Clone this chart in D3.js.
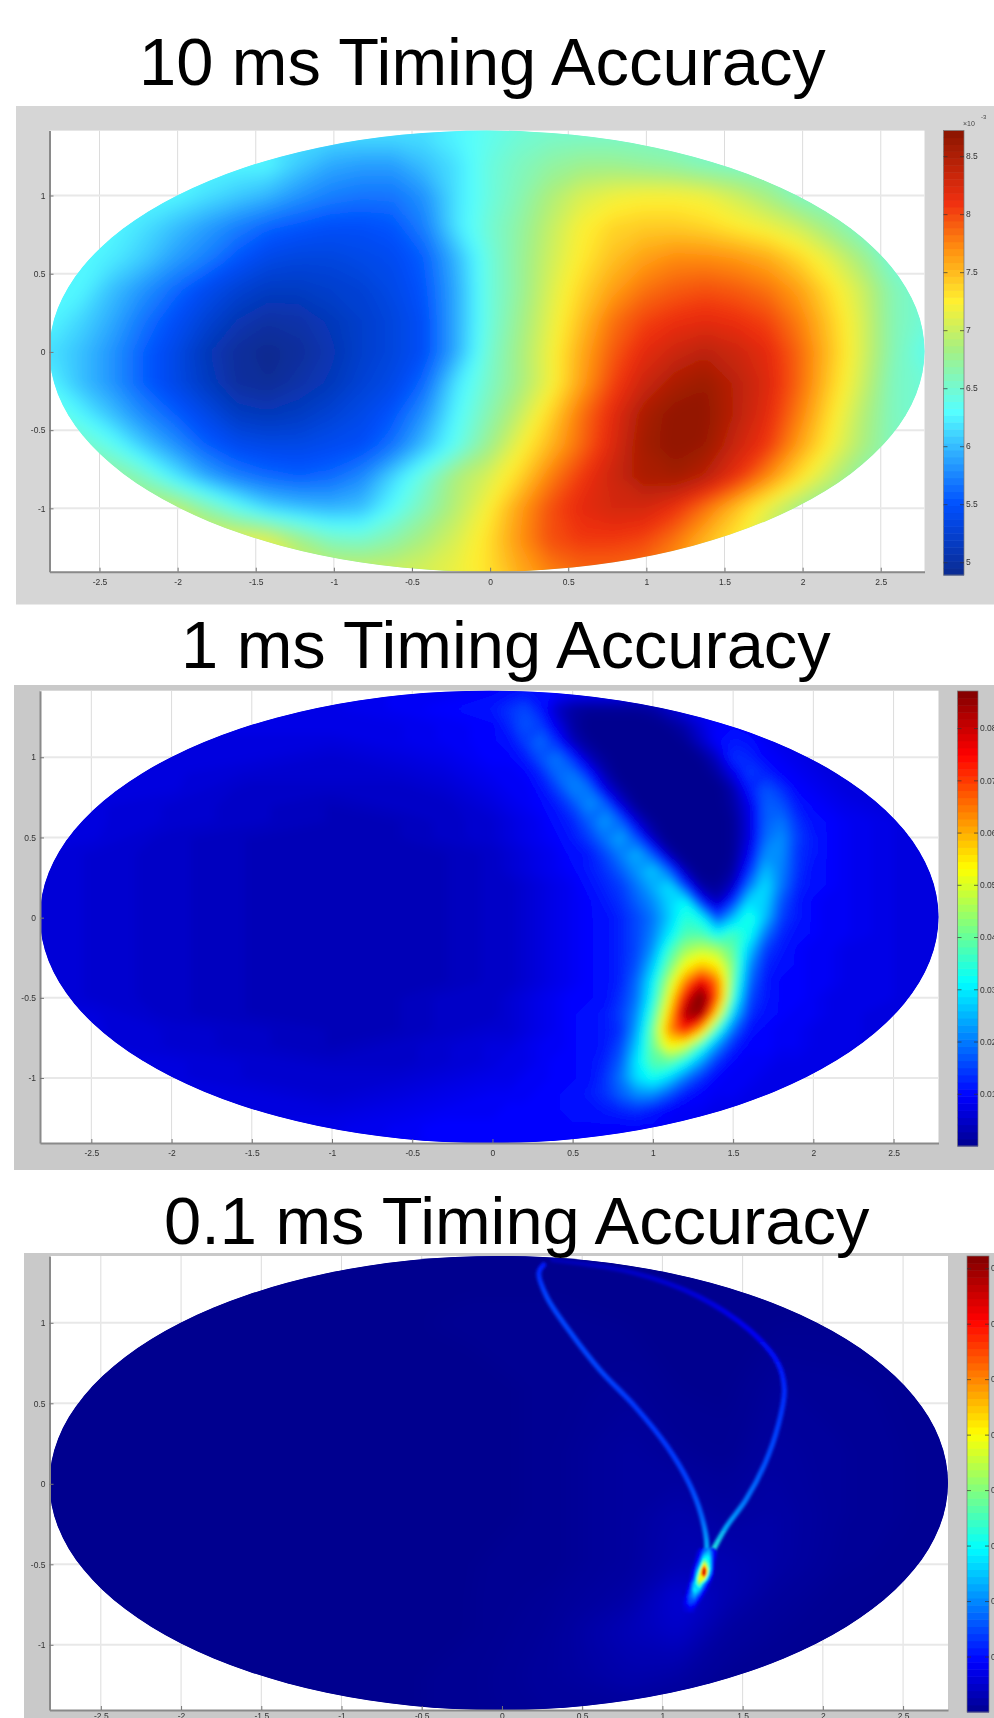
<!DOCTYPE html>
<html>
<head>
<meta charset="utf-8">
<title>Timing Accuracy</title>
<script src="https://cdn.jsdelivr.net/npm/d3@7"></script>
<style>
  html, body { margin: 0; padding: 0; background: #fff; overflow: hidden; }
  text { font-family: "Liberation Sans", Arial, sans-serif; }
</style>
</head>
<body>
<svg id="chart" width="994" height="1718"></svg>
<script>
// Axis ticks, same on all three maps
const xTicks = [-2.5, -2, -1.5, -1, -0.5, 0, 0.5, 1, 1.5, 2, 2.5];
const yTicks = [-1, -0.5, 0, 0.5, 1];
const xLimits = [-2.82, 2.78];
const yLimits = [-1.405, 1.415];

// 10 ms map, values in units of 1e-3
const coarseTicks = [5, 5.5, 6, 6.5, 7, 7.5, 8, 8.5];
const coarseDomain = [4.89, 8.72];
const coarseStops = [4.89, 5.5, 5.95, 6.3, 6.85, 7.25, 7.7, 8.1, 8.72];
const coarseColors = ["#0a2a90", "#0050ff", "#30b0ff", "#55ffff", "#a8f080", "#fff030", "#ff9010", "#f03010", "#8a1500"];
const coarseCols = d3.range(-28, 29, 2).map(d => d / 10 - 0.02);
const coarseRows = [1.4, 1.2, 1, 0.8, 0.6, 0.4, 0.2, 0, -0.2, -0.4, -0.6, -0.8, -1, -1.2, -1.4];
const coarseValues = [
  [6.2,6.2,6.2,6.2,6.2,6.2,6.2,6.2,6.2,6.2,6.2,6.2,6.2,6.3,6.4,6.5,6.55,6.55,6.55,6.55,6.55,6.55,6.55,6.55,6.55,6.55,6.55,6.55,6.55],
  [6.3,6.3,6.3,6.3,6.3,6.3,6.3,6.3,6.1,5.95,5.9,5.9,6.05,6.2,6.45,6.6,6.72,6.8,6.8,6.75,6.7,6.6,6.55,6.55,6.55,6.55,6.55,6.55,6.55],
  [6.3,6.3,6.3,6.3,6.3,6.2,6.1,6.0,5.85,5.75,5.7,5.7,5.85,6.2,6.45,6.65,6.9,7.1,7.2,7.25,7.25,7.2,7.05,6.85,6.6,6.55,6.55,6.55,6.55],
  [6.3,6.3,6.3,6.2,6.05,5.9,5.75,5.62,5.55,5.5,5.5,5.55,5.75,6.2,6.5,6.72,7.0,7.25,7.4,7.45,7.45,7.4,7.3,7.2,7.05,6.8,6.55,6.55,6.55],
  [6.3,6.3,6.25,6.1,5.9,5.75,5.55,5.4,5.35,5.35,5.4,5.45,5.6,6.0,6.45,6.75,7.05,7.3,7.5,7.65,7.75,7.75,7.7,7.6,7.4,7.15,6.85,6.5,6.5],
  [6.3,6.3,6.05,5.85,5.65,5.45,5.3,5.2,5.2,5.25,5.3,5.4,5.55,5.95,6.45,6.75,7.1,7.4,7.65,7.85,7.95,8.0,7.95,7.85,7.65,7.35,7.05,6.65,6.5],
  [6.3,6.15,5.95,5.7,5.5,5.3,5.12,5.02,5.05,5.15,5.25,5.35,5.5,5.95,6.45,6.8,7.15,7.5,7.85,8.05,8.15,8.2,8.15,8.05,7.8,7.45,7.1,6.65,6.5],
  [6.2,6.05,5.85,5.6,5.4,5.15,4.98,4.92,4.98,5.1,5.25,5.35,5.5,5.95,6.5,6.85,7.2,7.6,7.95,8.2,8.35,8.45,8.35,8.2,7.9,7.5,7.1,6.65,6.4],
  [6.3,6.05,5.85,5.6,5.4,5.2,5.0,4.95,5.05,5.15,5.3,5.4,5.65,6.2,6.55,6.85,7.2,7.65,8.05,8.35,8.55,8.65,8.45,8.25,7.9,7.45,7.05,6.6,6.5],
  [6.5,6.3,6.05,5.8,5.6,5.4,5.2,5.15,5.2,5.3,5.4,5.55,5.85,6.3,6.65,7.0,7.4,7.85,8.2,8.55,8.72,8.7,8.45,8.2,7.8,7.35,6.95,6.6,6.5],
  [6.6,6.6,6.4,6.1,5.85,5.6,5.45,5.4,5.4,5.45,5.5,5.7,6.05,6.4,6.8,7.2,7.55,7.9,8.25,8.6,8.72,8.65,8.35,8.1,7.65,7.25,6.9,6.6,6.6],
  [6.8,6.8,6.8,6.6,6.25,5.95,5.75,5.65,5.6,5.65,5.8,6.15,6.5,6.9,7.1,7.4,7.8,8.1,8.35,8.55,8.6,8.45,8.15,7.75,7.35,7.0,6.7,6.7,6.7],
  [7.0,7.0,7.0,7.0,7.0,6.7,6.4,6.15,6.05,6.0,6.05,6.35,6.65,6.95,7.25,7.65,8.0,8.2,8.3,8.3,8.15,7.85,7.5,7.15,6.85,6.7,6.7,6.7,6.7],
  [7.2,7.2,7.2,7.2,7.2,7.2,7.2,7.15,6.85,6.6,6.55,6.7,6.9,7.1,7.35,7.7,8.0,8.1,8.1,8.05,7.85,7.55,7.3,7.0,6.9,6.9,6.9,6.9,6.9],
  [7.2,7.2,7.2,7.2,7.2,7.2,7.2,7.2,7.1,7.05,7.05,7.05,7.1,7.2,7.35,7.6,7.8,7.9,7.9,7.85,7.7,7.5,7.3,7.0,7.0,7.0,7.0,7.0,7.0]
];

// 1 ms map, values in units of 1e-3
const mediumTicks = [10, 20, 30, 40, 50, 60, 70, 80];
const mediumDomain = [0, 87.1];
const mediumCols = [-2.9, -2.5, -2, -1.5, -1, -0.6, -0.3, 0, 0.1, 0.2, 0.3, 0.4, 0.5, 0.6, 0.7, 0.8, 0.9, 1, 1.1, 1.2, 1.3, 1.4, 1.5, 1.6, 1.7, 1.8, 1.9, 2, 2.1, 2.2, 2.4, 2.6, 2.9];
const mediumRows = [1.4, 1.3, 1.2, 1.1, 1, 0.9, 0.8, 0.7, 0.6, 0.5, 0.4, 0.3, 0.2, 0.1, 0, -0.1, -0.2, -0.3, -0.4, -0.5, -0.6, -0.7, -0.8, -0.9, -1, -1.1, -1.2, -1.3, -1.4];
const mediumValues = [
  [8,8,8,8,8,9,9, 10,11,12,11,10,9,9,9,9,9,9,9,9,9,9,9,9,8,8,8,8,8,8, 8,8,8],
  [8,8,8,8,8,9,10, 12,14,16,12,5,2,1,1,1,1,2,5,8,9,9,9,9,8,8,8,8,8,8, 8,8,8],
  [8,8,8,8,8,8,9, 10,13,17,15,8,2,0,0,0,0,0,1,3,7,10,10,9,8,8,8,8,8,8, 8,8,8],
  [7,7,7,7,7,8,9, 10,11,15,19,13,4,1,0,0,0,0,0,1,5,10,12,11,9,8,8,8,8,8, 8,8,8],
  [7,7,7,7,6,7,8, 10,10,12,17,20,13,4,1,0,0,0,0,0,1,5,14,13,10,9,8,7,7,7, 7,7,7],
  [7,7,7,6,6,6,7, 9,9,10,13,19,20,12,3,0,0,0,0,0,0,2,8,15,13,10,9,8,7,7, 7,7,7],
  [7,7,7,5,5,5,6, 8,9,9,11,15,21,20,8,2,0,0,0,0,0,0,3,12,17,14,10,9,8,7, 7,7,7],
  [7,7,6,5,4,5,5, 7,8,9,10,12,16,22,19,7,1,0,0,0,0,0,2,8,18,17,12,10,9,8, 7,7,7],
  [7,7,6,5,4,4,5, 6,7,8,9,11,13,18,23,18,6,1,0,0,0,0,1,7,18,20,14,11,10,9, 8,7,7],
  [7,7,5,4,4,4,5, 6,7,8,9,10,12,15,20,24,16,4,0,0,0,0,1,7,19,22,15,12,10,9, 8,7,7],
  [7,6,5,4,4,4,4, 5,6,7,8,9,11,12,16,21,25,16,3,0,0,0,1,9,22,22,14,12,10,9, 8,7,7],
  [7,6,5,4,4,4,4, 5,6,7,8,9,10,12,14,18,23,27,17,3,0,0,2,13,26,21,14,11,10,9, 8,7,7],
  [7,6,5,4,4,4,4, 5,5,6,7,8,9,11,13,15,20,25,29,14,2,1,5,20,29,20,13,11,10,9, 8,7,7],
  [7,6,5,4,4,4,4, 5,5,6,7,8,9,10,12,14,18,22,28,32,12,4,14,29,28,17,12,10,9,9, 8,7,7],
  [7,6,5,4,4,4,4, 5,5,6,7,8,9,10,11,13,16,20,27,35,32,16,26,35,26,15,12,10,9,9, 8,7,7],
  [7,6,5,4,4,4,4, 5,5,6,7,8,9,10,11,13,16,21,30,38,38,32,37,33,20,13,11,10,9,9, 8,7,7],
  [7,6,5,4,4,4,4, 5,5,6,7,8,9,10,11,13,16,23,36,45,48,46,40,27,15,12,10,9,9,8, 8,7,7],
  [7,6,5,4,4,4,4, 5,5,6,7,8,9,10,11,13,17,27,41,53,59,55,42,22,13,11,10,9,9,8, 8,7,7],
  [7,6,5,4,4,4,4, 5,5,6,7,8,9,10,11,13,19,31,47,64,78,66,40,19,12,10,10,9,9,8, 8,7,7],
  [7,6,5,4,4,4,5, 5,6,7,8,9,10,10,11,14,20,33,52,76,92,68,36,16,12,10,10,9,8,8, 8,7,7],
  [7,7,5,4,4,4,5, 5,6,7,8,9,10,11,12,15,22,37,58,84,86,55,28,14,11,10,9,9,8,8, 7,7,7],
  [7,7,6,5,4,4,5, 6,6,7,8,9,10,11,12,14,24,41,63,74,60,36,19,11,10,9,9,8,8,8, 7,7,7],
  [7,7,6,5,4,5,6, 7,7,8,9,9,10,11,12,16,27,41,54,50,36,22,13,10,10,9,9,8,8,8, 7,7,7],
  [7,7,7,6,5,5,6, 7,8,8,9,10,10,11,13,18,30,39,40,33,23,14,10,9,9,8,8,8,8,7, 7,7,7],
  [7,7,7,6,6,6,7, 8,8,9,9,10,10,11,14,20,29,33,28,20,14,10,9,9,8,8,8,8,7,7, 7,7,7],
  [8,8,7,7,6,7,8, 9,9,9,10,10,11,12,14,18,22,22,17,12,10,9,9,8,8,8,8,7,7,7, 7,7,7],
  [8,8,8,7,7,8,9, 9,10,10,10,10,11,11,12,13,14,12,10,9,9,8,8,8,8,8,7,7,7,7, 7,7,7],
  [8,8,8,8,8,9,10, 10,10,10,10,10,10,10,10,10,10,10,9,9,8,8,8,8,8,8,7,7,7,7, 7,7,7],
  [8,8,8,8,8,9,10, 10,10,10,10,10,10,10,10,10,10,10,9,9,8,8,8,8,8,8,7,7,7,7, 7,7,7]
];

// 0.1 ms map, values in units of 1e-3
const fineTicks = [100, 200, 300, 400, 500, 600, 700, 800];
const fineDomain = [0, 822];
const fineCols = [-2.9, -1, -0.2, 0.3, 0.8, 1.1, 1.4, 1.7, 2.1, 2.9];
const fineRows = [1.4, 1, 0.6, 0.2, -0.2, -0.5, -0.7, -0.9, -1.2, -1.4];
const fineValues = [
  [0,0,0,0,0,0,0,0,0,0],
  [0,0,5,5,3,0,0,3,3,0],
  [0,0,0,5,8,3,2,10,8,3],
  [0,0,0,5,15,8,5,15,10,3],
  [0,0,0,5,15,25,15,20,10,3],
  [0,0,3,5,15,30,30,20,8,2],
  [0,0,3,8,20,60,30,12,5,0],
  [0,0,3,10,35,50,15,8,3,0],
  [0,0,5,12,25,18,6,3,0,0],
  [0,0,5,10,10,5,0,0,0,0]
];

// 0.1 ms map: the two thin arcs, read point by point
const leftArcX = [0.26, 0.23, 0.28, 0.415, 0.61, 0.83, 1.03, 1.166, 1.245, 1.277, 1.253];
const leftArcY = [1.36, 1.31, 1.16, 0.957, 0.708, 0.48, 0.232, 0.004, -0.203, -0.389, -0.545];
const leftArcV = [110, 125, 145, 145, 145, 135, 135, 145, 170, 230, 320];
const rightArcX = [0.316, 0.83, 1.225, 1.54, 1.72, 1.76, 1.72, 1.64, 1.52, 1.4, 1.296, 1.253];
const rightArcY = [1.391, 1.309, 1.164, 0.957, 0.75, 0.584, 0.356, 0.128, -0.1, -0.265, -0.451, -0.545];
const rightArcV = [30, 45, 60, 80, 105, 125, 140, 155, 185, 225, 330, 400];

// 0.1 ms map: the bright spot where the arcs meet
const spotCols = [1.14, 1.17, 1.2, 1.23, 1.26, 1.29, 1.32, 1.35];
const spotRows = [-0.42, -0.46, -0.5, -0.53, -0.56, -0.59, -0.62, -0.66, -0.7, -0.74, -0.78];
const spotValues = [
  [0,0,30,70,180,240,110,30],
  [0,0,40,110,300,300,90,20],
  [0,20,60,190,500,330,70,0],
  [0,30,90,300,780,340,60,0],
  [0,40,120,420,810,260,50,0],
  [0,50,160,520,480,150,30,0],
  [20,80,260,430,210,70,20,0],
  [40,120,300,250,100,40,0,0],
  [60,170,220,120,50,0,0,0],
  [80,150,130,60,0,0,0,0],
  [60,80,60,0,0,0,0,0]
];

const titles = ["10 ms Timing Accuracy", "1 ms Timing Accuracy", "0.1 ms Timing Accuracy"];

const svg = d3.select("#chart");
const defs = svg.append("defs");

// jet colormap from matlab
const jetStops = [0, 0.11, 0.36, 0.61, 0.86, 1];
const jetColors = ["#00008f", "#0000ff", "#00ffff", "#ffff00", "#ff0000", "#800000"];
function jetScale(domain) {
  const t = d3.scaleLinear().domain(domain);
  const c = d3.scaleLinear().domain(jetStops).range(jetColors).clamp(true);
  return v => c(t(v));
}

function addBlur(id, sd) {
  defs.append("filter").attr("id", id)
    .attr("x", "-10%").attr("y", "-10%").attr("width", "120%").attr("height", "120%")
    .append("feGaussianBlur").attr("stdDeviation", sd);
}
addBlur("soft", 0.6);
addBlur("blur1", 7);
addBlur("blur2", 4);
addBlur("blur3", 9);
addBlur("blurArc", 1.6);
addBlur("blurSpot", 1.2);

// contour a value grid and draw it through the panel scales
function drawGrid(g, x, y, cols, rows, values, color, thresholds, filter) {
  const ci = d3.scaleLinear().domain(cols.map((d, i) => i + 0.5)).range(cols);
  const cj = d3.scaleLinear().domain(rows.map((d, i) => i + 0.5)).range(rows);
  const path = d3.geoPath(d3.geoTransform({
    point(a, b) { this.stream.point(x(ci(a)), y(cj(b))); }
  }));
  const flat = values.flat();
  if (flat.length !== cols.length * rows.length) throw new Error("bad grid " + flat.length);
  const contours = d3.contours().size([cols.length, rows.length]).thresholds(thresholds)(flat);
  g.append("g").attr("filter", `url(#${filter})`)
    .selectAll("path").data(contours).join("path")
    .attr("d", path)
    .attr("fill", d => color(d.value));
}

function drawPanel(p) {
  const g = svg.append("g");

  g.append("rect")
    .attr("x", p.bg[0]).attr("y", p.bg[1])
    .attr("width", p.bg[2] - p.bg[0]).attr("height", p.bg[3] - p.bg[1])
    .attr("fill", p.gray);
  g.append("rect")
    .attr("x", p.plot[0]).attr("y", p.plot[1])
    .attr("width", p.plot[2] - p.plot[0]).attr("height", p.plot[3] - p.plot[1])
    .attr("fill", "#fff");

  const x = d3.scaleLinear().domain(xLimits).range([p.plot[0], p.plot[2]]);
  const y = d3.scaleLinear().domain(yLimits).range([p.plot[3], p.plot[1]]);

  // grid lines
  g.append("g").selectAll("line").data(xTicks).join("line")
    .attr("x1", d => x(d)).attr("x2", d => x(d))
    .attr("y1", p.plot[1]).attr("y2", p.plot[3])
    .attr("stroke", "#dcdcdc").attr("stroke-width", 1);
  g.append("g").selectAll("line").data(yTicks).join("line")
    .attr("x1", p.plot[0]).attr("x2", p.plot[2])
    .attr("y1", d => y(d)).attr("y2", d => y(d))
    .attr("stroke", "#e8e8e8").attr("stroke-width", 2);

  // the map itself, cut to the ellipse
  const clipId = "clip" + p.id;
  const cx = x(-0.02), cy = y(0.005);
  const rx = (p.plot[2] - p.plot[0]) / 2, ry = (p.plot[3] - p.plot[1]) / 2;
  defs.append("clipPath").attr("id", clipId)
    .append("ellipse").attr("cx", cx).attr("cy", cy).attr("rx", rx).attr("ry", ry);
  const map = g.append("g").attr("clip-path", `url(#${clipId})`);
  map.append("ellipse").attr("cx", cx).attr("cy", cy).attr("rx", rx).attr("ry", ry).attr("fill", p.rim);
  p.drawMap(map, x, y);

  // axes
  const xAxis = g.append("g").attr("transform", `translate(0,${p.plot[3]})`)
    .call(d3.axisBottom(x).tickValues(xTicks).tickSize(-4).tickSizeOuter(0).tickPadding(p.xPad).tickFormat(d => d));
  const yAxis = g.append("g").attr("transform", `translate(${p.plot[0]},0)`)
    .call(d3.axisLeft(y).tickValues(yTicks).tickSize(-4).tickSizeOuter(0).tickPadding(4).tickFormat(d => d));
  [xAxis, yAxis].forEach(a => {
    a.selectAll("path").attr("stroke", "#8a8a8a").attr("stroke-width", 2);
    a.selectAll("line").attr("stroke", "#777");
    a.selectAll("text").attr("font-size", 8.5).attr("fill", "#333").attr("filter", "url(#soft)")
      .attr("font-family", "Liberation Sans");
  });

  // colorbar
  const bar = p.bar;
  const c = d3.scaleLinear().domain(p.domain).range([bar[3], bar[1]]);
  const stepV = (p.domain[1] - p.domain[0]) / 64;
  g.append("g").selectAll("rect").data(d3.range(64)).join("rect")
    .attr("x", bar[0]).attr("width", bar[2] - bar[0])
    .attr("y", d => c(p.domain[0] + (d + 1) * stepV))
    .attr("height", d => c(p.domain[0] + d * stepV) - c(p.domain[0] + (d + 1) * stepV) + 0.5)
    .attr("fill", d => p.color(p.domain[0] + (d + 0.5) * stepV));
  g.append("rect")
    .attr("x", bar[0]).attr("y", bar[1])
    .attr("width", bar[2] - bar[0]).attr("height", bar[3] - bar[1])
    .attr("fill", "none").attr("stroke", "#777").attr("stroke-width", 0.7);
  const barRight = g.append("g").attr("transform", `translate(${bar[2]},0)`)
    .call(d3.axisRight(c).tickValues(p.barTicks).tickSize(-4).tickSizeOuter(0).tickPadding(2).tickFormat(p.barFormat));
  const barLeft = g.append("g").attr("transform", `translate(${bar[0]},0)`)
    .call(d3.axisLeft(c).tickValues(p.barTicks).tickSize(-4).tickSizeOuter(0).tickFormat(""));
  [barRight, barLeft].forEach(a => {
    a.selectAll("path").attr("stroke", "none");
    a.selectAll("line").attr("stroke", "#333").attr("stroke-opacity", 0.7);
    a.selectAll("text").attr("font-size", 8.5).attr("fill", "#333").attr("filter", "url(#soft)")
      .attr("font-family", "Liberation Sans");
  });

  g.append("text").text(p.title)
    .attr("x", p.titleX).attr("y", p.titleY)
    .attr("font-size", 66.8).attr("fill", "#000");
}

const coarseColor = d3.scaleLinear().domain(coarseStops).range(coarseColors).clamp(true);
const mediumColor = jetScale(mediumDomain);
const fineColor = jetScale(fineDomain);

function levels(domain, n) {
  return d3.range(n).map(i => domain[0] + i * (domain[1] - domain[0]) / n);
}

function drawArc(map, x, y, xs, ys, vs, id) {
  const points = xs.map((d, i) => [x(d), y(ys[i])]);
  const grad = defs.append("linearGradient").attr("id", id)
    .attr("gradientUnits", "userSpaceOnUse")
    .attr("x1", 0).attr("x2", 0)
    .attr("y1", points[0][1]).attr("y2", points[points.length - 1][1]);
  const span = points[points.length - 1][1] - points[0][1];
  grad.selectAll("stop").data(points).join("stop")
    .attr("offset", d => (d[1] - points[0][1]) / span)
    .attr("stop-color", (d, i) => fineColor(vs[i]));
  map.append("path")
    .attr("d", d3.line().curve(d3.curveCatmullRom)(points))
    .attr("fill", "none").attr("stroke", `url(#${id})`)
    .attr("stroke-width", 5).attr("stroke-linecap", "round")
    .attr("filter", "url(#blurArc)");
}

drawPanel({
  id: 1, title: titles[0], titleX: 139, titleY: 85,
  bg: [16, 106, 994, 604.5], plot: [49.5, 130.6, 924.5, 571.7], bar: [943.5, 130.6, 964, 575],
  gray: "#d6d6d6", rim: "#66f0e0", xPad: 7,
  domain: coarseDomain, color: coarseColor, barTicks: coarseTicks, barFormat: d => d,
  drawMap(map, x, y) {
    drawGrid(map, x, y, coarseCols, coarseRows, coarseValues, coarseColor, levels(coarseDomain, 64), "blur1");
  }
});

drawPanel({
  id: 2, title: titles[1], titleX: 181, titleY: 668,
  bg: [14, 685, 994, 1170], plot: [40, 690.7, 938.5, 1143], bar: [957.5, 691, 978, 1146],
  gray: "#c9c9c9", rim: "#0000d8", xPad: 7,
  domain: mediumDomain, color: mediumColor, barTicks: mediumTicks, barFormat: d => d / 1000,
  drawMap(map, x, y) {
    drawGrid(map, x, y, mediumCols, mediumRows, mediumValues, mediumColor, levels(mediumDomain, 128), "blur2");
  }
});

drawPanel({
  id: 3, title: titles[2], titleX: 164, titleY: 1244,
  bg: [24, 1253, 994, 1718], plot: [49.5, 1256, 948, 1710], bar: [967, 1256, 989, 1712],
  gray: "#c9c9c9", rim: "#00008f", xPad: 3,
  domain: fineDomain, color: fineColor, barTicks: fineTicks, barFormat: d => d / 1000,
  drawMap(map, x, y) {
    drawGrid(map, x, y, fineCols, fineRows, fineValues, fineColor, levels(fineDomain, 256), "blur3");
    drawArc(map, x, y, leftArcX, leftArcY, leftArcV, "arcLeft");
    drawArc(map, x, y, rightArcX, rightArcY, rightArcV, "arcRight");
    drawGrid(map, x, y, spotCols, spotRows, spotValues, fineColor,
      d3.range(40, 820, 10), "blurSpot");
  }
});

// the x10^-3 note over the first colorbar
svg.append("text").text("×10").attr("x", 963).attr("y", 126)
  .attr("font-size", 7).attr("fill", "#444").attr("filter", "url(#soft)");
svg.append("text").text("-3").attr("x", 981).attr("y", 119)
  .attr("font-size", 6).attr("fill", "#444").attr("filter", "url(#soft)");
</script>
</body>
</html>
